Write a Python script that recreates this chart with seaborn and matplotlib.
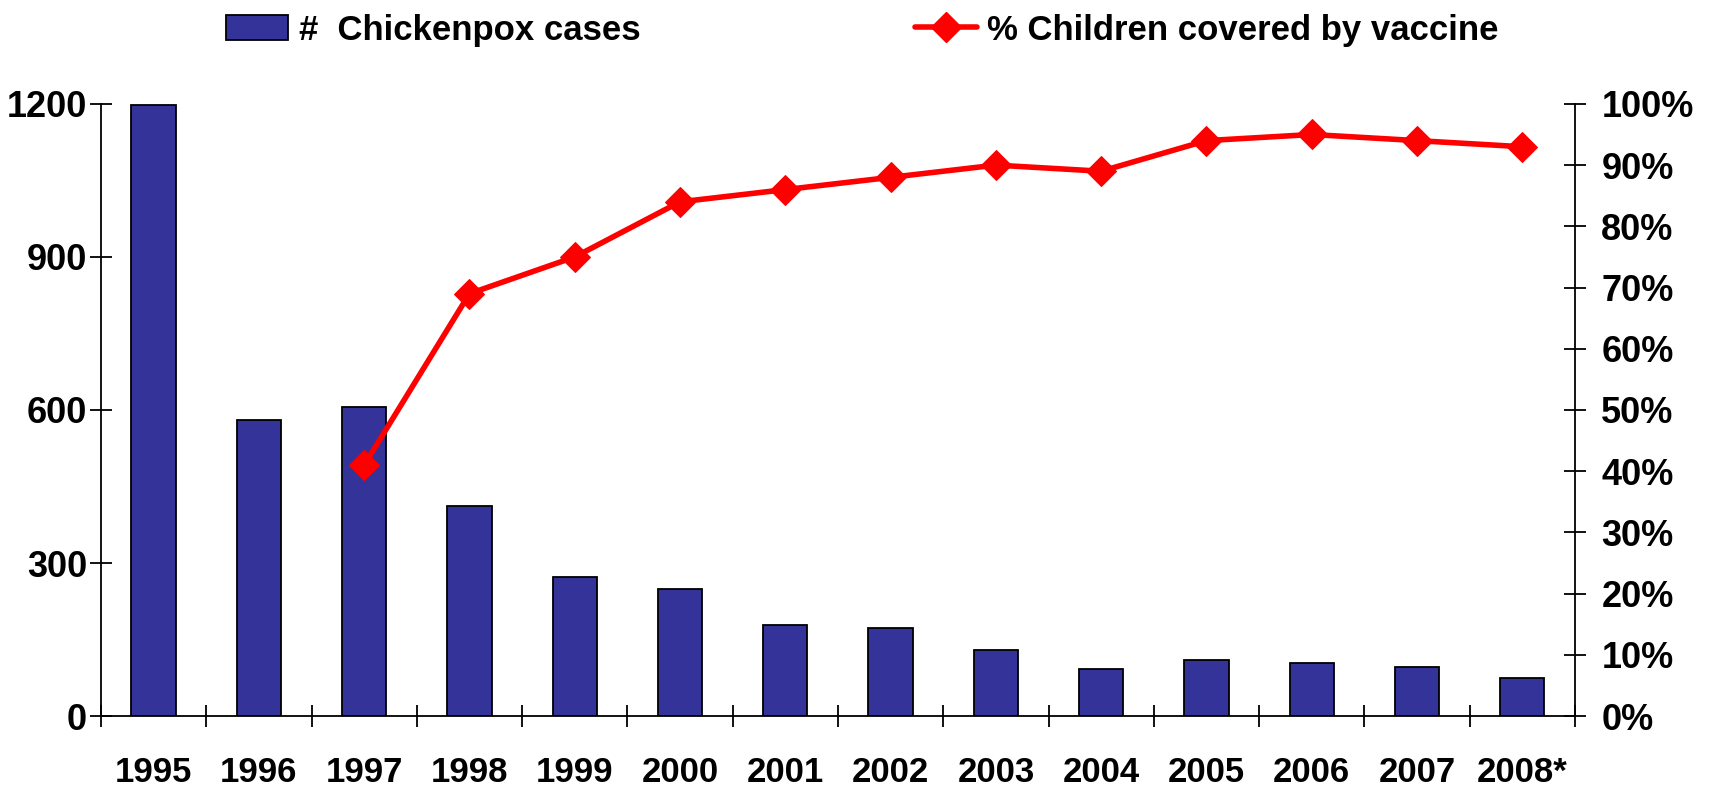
import numpy as np
import pandas as pd
import matplotlib
matplotlib.use("Agg")
import matplotlib.pyplot as plt
import seaborn as sns
from matplotlib.lines import Line2D
from matplotlib.patches import Patch

# Reported chickenpox cases and vaccine coverage by year
years = ["1995", "1996", "1997", "1998", "1999", "2000", "2001",
         "2002", "2003", "2004", "2005", "2006", "2007", "2008*"]
cases = [1197, 580, 605, 412, 272, 250, 178, 173, 130, 92, 109, 105, 96, 75]
coverage = [np.nan, np.nan, 41, 69, 75, 84, 86, 88, 90, 89, 94, 95, 94, 93]
case_ticks = [0, 300, 600, 900, 1200]
pct_ticks = [0, 10, 20, 30, 40, 50, 60, 70, 80, 90, 100]

bar_label = "#  Chickenpox cases"
line_label = "% Children covered by vaccine"

BAR_COLOR = "#333399"
LINE_COLOR = "#ff0000"

sns.set_theme(style="white")
plt.rcParams["font.family"] = ["Liberation Sans", "DejaVu Sans"]
plt.rcParams["font.weight"] = "bold"
for key in ("text.color", "axes.labelcolor", "xtick.color", "ytick.color",
            "axes.edgecolor"):
    plt.rcParams[key] = "black"

df = pd.DataFrame({"year": years, "cases": cases, "coverage": coverage,
                   "pos": np.arange(len(years))})

fig = plt.figure(figsize=(17.11, 7.93), dpi=100)
ax = fig.add_axes([0.059, 0.097, 0.8615, 0.772])

sns.barplot(data=df, x="year", y="cases", color=BAR_COLOR, saturation=1,
            width=0.42, edgecolor="black", linewidth=1.3, ax=ax)

ax2 = ax.twinx()
sns.lineplot(data=df.dropna(subset=["coverage"]), x="pos", y="coverage",
             color=LINE_COLOR, lw=4, marker="D", markersize=15,
             markeredgecolor=LINE_COLOR, ax=ax2)

n = len(years)
ax.set_xlim(-0.5, n - 0.5)
ax.set_ylim(0, 1200)
ax2.set_ylim(0, 100)

# left axis
ax.set_yticks(case_ticks)
ax.set_yticklabels([str(v) for v in case_ticks])
ax.tick_params(axis="y", direction="inout", length=16, width=1.3,
               labelsize=26, pad=2, left=True, colors="black")

# right axis
ax2.set_yticks(pct_ticks)
ax2.set_yticklabels([f"{v}%" for v in pct_ticks])
ax2.tick_params(axis="y", direction="inout", length=16, width=1.3,
                labelsize=26, pad=11, right=True, colors="black")

# category labels with boundary ticks
ax.set_xticks(np.arange(n))
ax.set_xticklabels(years)
ax.set_xticks(np.arange(-0.5, n, 1), minor=True)
ax.tick_params(axis="x", which="major", length=0, pad=29, labelsize=25,
               colors="black")
ax.tick_params(axis="x", which="minor", direction="inout", length=16,
               width=1.3, bottom=True, color="black")

for a in (ax, ax2):
    a.set_xlabel("")
    a.set_ylabel("")
    a.grid(False)
    for s in a.spines.values():
        s.set_color("black")
        s.set_linewidth(1.3)
ax.spines["top"].set_visible(False)
ax.spines["right"].set_visible(False)
ax2.spines["top"].set_visible(False)
ax2.spines["left"].set_visible(False)
ax2.spines["bottom"].set_visible(False)

handles = [
    Patch(facecolor=BAR_COLOR, edgecolor="black", linewidth=1.3),
    Line2D([], [], color=LINE_COLOR, lw=4, marker="D", markersize=15,
           markeredgecolor=LINE_COLOR),
]
fig.legend(handles, [bar_label, line_label], loc="center",
           bbox_to_anchor=(0.504, 0.962), ncol=2, frameon=False,
           columnspacing=7.9, handlelength=1.8, handletextpad=0.3,
           prop={"weight": "bold", "size": 25})

fig.savefig("out.png", dpi=100)
